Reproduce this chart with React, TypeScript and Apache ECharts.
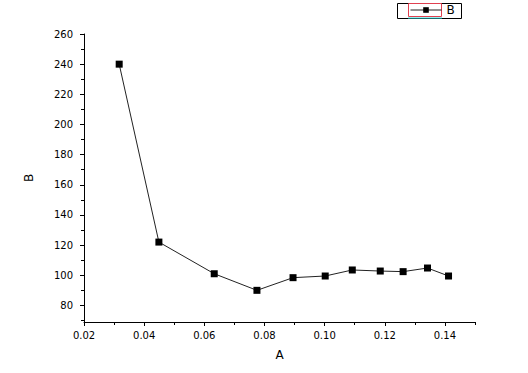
import React, { useEffect, useRef } from "react";
import * as echarts from "echarts";

const xValues = [0.0317, 0.0449, 0.0633, 0.0775, 0.0895, 0.1002, 0.1092, 0.1185, 0.1261, 0.1342, 0.1412];
const yValues = [240, 122, 101, 90, 98.4, 99.5, 103.5, 102.8, 102.4, 104.8, 99.5];
const xTickLabels = [0.02, 0.04, 0.06, 0.08, 0.1, 0.12, 0.14];
const xMinorTicks = [0.03, 0.05, 0.07, 0.09, 0.11, 0.13, 0.15];
const yTickLabels = [80, 100, 120, 140, 160, 180, 200, 220, 240, 260];
const yMinorTicks = [70, 90, 110, 130, 150, 170, 190, 210, 230, 250];

const FONT = "DejaVu Sans, Verdana, sans-serif";

export default function App() {
  const ref = useRef<HTMLDivElement>(null);
  useEffect(() => {
    if (!ref.current) return;
    const chart = echarts.init(ref.current, undefined, { renderer: "svg" });
    const axisLine = { show: true, lineStyle: { color: "#000", width: 1 } };
    const xBase = {
      type: "value",
      min: 0.02,
      max: 0.15,
      axisLine,
      splitLine: { show: false },
    };
    const yBase = {
      type: "value",
      min: 69,
      max: 260,
      axisLine,
      splitLine: { show: false },
    };
    chart.setOption({
      animation: false,
      backgroundColor: "#fff",
      grid: { left: 84, right: 53, top: 34, bottom: 51, containLabel: false },
      legend: {
        left: 410,
        top: 4,
        padding: 0,
        itemWidth: 31,
        itemHeight: 7,
        itemGap: 5,
        textStyle: { fontFamily: FONT, fontSize: 12, color: "#000" },
        data: [{ name: "B", lineStyle: { width: 1, color: "#222" } }],
      },
      graphic: [
        { type: "rect", shape: { x: 397.5, y: 3.5, width: 64, height: 15 }, style: { fill: "none", stroke: "#000", lineWidth: 1 }, silent: true },
        { type: "rect", shape: { x: 408.5, y: 3.5, width: 33, height: 13 }, style: { fill: "none", stroke: "#e04050", lineWidth: 1 }, silent: true },
        { type: "line", shape: { x1: 408, y1: 18, x2: 442, y2: 18 }, style: { stroke: "#30e0e0", lineWidth: 1 }, silent: true },
      ],
      xAxis: [
        {
          ...xBase,
          name: "A",
          nameLocation: "middle",
          nameGap: 27,
          nameTextStyle: { fontFamily: FONT, fontSize: 12, color: "#000" },
          axisTick: { show: true, length: 4, inside: false, customValues: xTickLabels, lineStyle: { color: "#000" } },
          axisLabel: {
            show: true,
            margin: 8,
            customValues: xTickLabels,
            fontFamily: FONT,
            fontSize: 10,
            color: "#000",
            formatter: (v: number) => v.toFixed(2),
          },
        },
        {
          ...xBase,
          position: "bottom",
          axisLine: { show: false },
          axisTick: { show: true, length: 3, inside: false, customValues: xMinorTicks, lineStyle: { color: "#000" } },
          axisLabel: { show: false },
        },
      ],
      yAxis: [
        {
          ...yBase,
          name: "B",
          nameLocation: "middle",
          nameGap: 49,
          nameTextStyle: { fontFamily: FONT, fontSize: 12, color: "#000" },
          axisTick: { show: true, length: 4, inside: false, customValues: yTickLabels, lineStyle: { color: "#000" } },
          axisLabel: {
            show: true,
            margin: 11,
            customValues: yTickLabels,
            fontFamily: FONT,
            fontSize: 10,
            color: "#000",
          },
        },
        {
          ...yBase,
          position: "left",
          axisLine: { show: false },
          axisTick: { show: true, length: 3, inside: false, customValues: yMinorTicks, lineStyle: { color: "#000" } },
          axisLabel: { show: false },
        },
      ],
      series: [
        {
          name: "B",
          type: "line",
          xAxisIndex: 0,
          yAxisIndex: 0,
          data: xValues.map((x, i) => [x, yValues[i]]),
          symbol: "rect",
          symbolSize: 7,
          lineStyle: { color: "#222", width: 1 },
          itemStyle: { color: "#000" },
        },
      ],
    });
    return () => chart.dispose();
  }, []);
  return <div ref={ref} style={{ width: 528, height: 373, position: "absolute", left: 0, top: 0 }} />;
}
